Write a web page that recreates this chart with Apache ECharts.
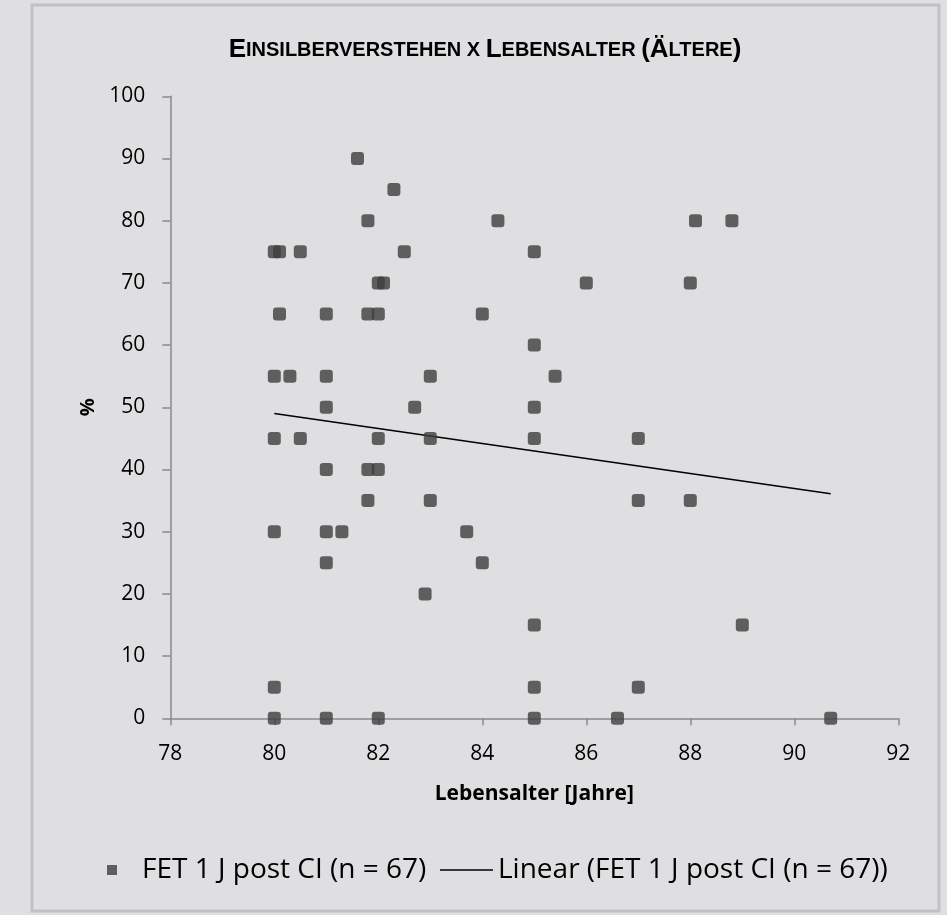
<!DOCTYPE html>
<html>
<head>
<meta charset="utf-8">
<script src="https://cdn.jsdelivr.net/npm/echarts@6/dist/echarts.min.js"></script>
<style>
html,body{margin:0;padding:0;background:#dfdfe1;}
#chart{width:947px;height:915px;}
</style>
</head>
<body>
<div id="chart"></div>
<script>
// Lebensalter [Jahre]
const ages = [
  80, 80.1, 80.5, 82.5, 85,
  81.6,
  82.3,
  81.8, 84.3, 88.1, 88.8,
  82, 82.1, 86, 88,
  80.1, 81, 81.8, 82, 84,
  85,
  80, 80.3, 81, 83, 85.4,
  81, 82.7, 85,
  80, 80.5, 82, 83, 85, 87,
  81, 81.8, 82,
  81.8, 83, 87, 88,
  80, 81, 81.3, 83.7,
  81, 84,
  82.9,
  85, 89,
  80, 85, 87,
  80, 81, 82, 85, 86.6, 90.7
];
// Einsilberverstehen %
const scores = [
  75, 75, 75, 75, 75,
  90,
  85,
  80, 80, 80, 80,
  70, 70, 70, 70,
  65, 65, 65, 65, 65,
  60,
  55, 55, 55, 55, 55,
  50, 50, 50,
  45, 45, 45, 45, 45, 45,
  40, 40, 40,
  35, 35, 35, 35,
  30, 30, 30, 30,
  25, 25,
  20,
  15, 15,
  5, 5, 5,
  0, 0, 0, 0, 0, 0
];
// linear trend line endpoints
const trendAges = [80, 90.7];
const trendScores = [49.0, 36.1];

const seriesName = 'FET 1 J post CI (n = 67)';
const trendName = 'Linear (FET 1 J post CI (n = 67))';

const scatterData = ages.map((a, i) => [a, scores[i]]);
const trendData = trendAges.map((a, i) => [a, trendScores[i]]);

const chart = echarts.init(document.getElementById('chart'));
const tf = 'Liberation Sans, sans-serif';
const mainFont = 'Open Sans, sans-serif';

chart.setOption({
  backgroundColor: '#dfdfe1',
  animation: false,
  title: {
    text: '{b|E}{s|INSILBERVERSTEHEN X }{b|L}{s|EBENSALTER }{b|(Ä}{s|LTERE}{b|)}',
    left: 480,
    textAlign: 'center',
    top: 32,
    textStyle: {
      rich: {
        b: {fontFamily: tf, fontWeight: 'bold', fontSize: 26, color: '#000'},
        s: {fontFamily: tf, fontWeight: 'bold', fontSize: 20, color: '#000'}
      }
    }
  },
  graphic: [{
    type: 'rect',
    shape: {x: 32, y: 5, width: 907, height: 906},
    style: {fill: 'none', stroke: '#c2c2c4', lineWidth: 3},
    silent: true
  }],
  grid: {left: 170.3, right: 48.7, top: 96.3, bottom: 196.7, containLabel: false},
  xAxis: {
    type: 'value',
    min: 78, max: 92, interval: 2,
    name: 'Lebensalter [Jahre]',
    nameLocation: 'middle',
    nameGap: 65,
    nameTextStyle: {fontFamily: mainFont, fontWeight: 'bold', fontSize: 21, color: '#000'},
    axisLine: {show: true, lineStyle: {color: '#8a8a8a', width: 1.5}},
    axisTick: {show: true, length: 7, lineStyle: {color: '#8a8a8a', width: 1.5}},
    axisLabel: {fontFamily: mainFont, fontSize: 21, color: '#000', margin: 25},
    splitLine: {show: false}
  },
  yAxis: {
    type: 'value',
    min: 0, max: 100, interval: 10,
    name: '%',
    nameLocation: 'middle',
    nameGap: 72,
    nameRotate: 90,
    nameTextStyle: {fontFamily: mainFont, fontWeight: 'bold', fontSize: 20, color: '#000'},
    axisLine: {show: true, lineStyle: {color: '#8a8a8a', width: 1.5}},
    axisTick: {show: true, length: 8, lineStyle: {color: '#8a8a8a', width: 1.5}},
    axisLabel: {fontFamily: mainFont, fontSize: 21, color: '#000', margin: 25},
    splitLine: {show: false}
  },
  legend: [{
    data: [{name: seriesName, icon: 'rect'}],
    left: 102,
    top: 851,
    itemWidth: 10,
    itemHeight: 10,
    selectedMode: false,
    textStyle: {fontFamily: mainFont, fontSize: 28, color: '#000', padding: [0, 0, 0, 20]}
  }, {
    data: [{name: trendName, icon: 'rect'}],
    left: 435,
    top: 851,
    itemWidth: 53,
    itemHeight: 1.5,
    selectedMode: false,
    textStyle: {fontFamily: mainFont, fontSize: 28, color: '#000'}
  }],
  series: [{
    name: seriesName,
    type: 'scatter',
    data: scatterData,
    symbol: 'roundRect',
    symbolSize: 13,
    itemStyle: {color: '#3d3d3d'},
    z: 3
  }, {
    name: trendName,
    type: 'line',
    data: trendData,
    symbol: 'none',
    lineStyle: {color: '#000', width: 1.5},
    itemStyle: {color: '#000'},
    z: 2
  }]
});
</script>
</body>
</html>
